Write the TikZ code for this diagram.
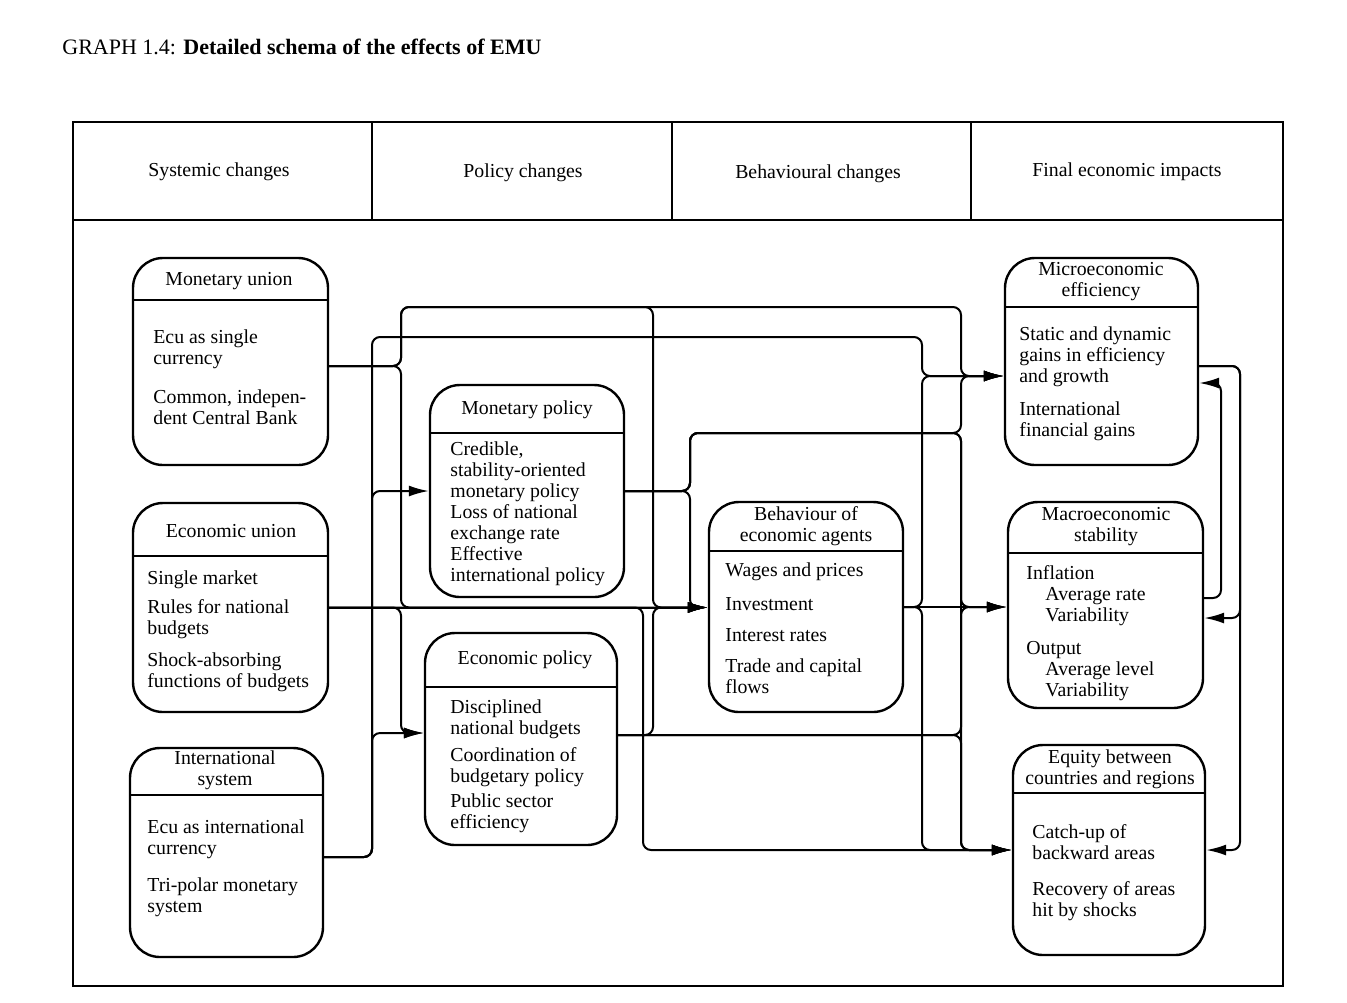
\documentclass[tikz,border=0pt]{standalone}
\usepackage{fontspec}
\setmainfont{Liberation Serif}
\usetikzlibrary{calc,arrows.meta}

\begin{document}
\begin{tikzpicture}[x=0.5pt,y=-0.5pt,
	every node/.style={font=\fontsize{9.9}{10.5}\selectfont},
	box/.style={draw,line width=1.2pt,rounded corners=15pt,inner sep=0pt},
	txt/.style={inner sep=0pt,align=left,anchor=north west},
	ttl/.style={inner sep=0pt,align=center},
	link/.style={line width=1pt,rounded corners=4pt,-{Latex[length=10pt,width=5.5pt]}}]
			%%%%% START %%%%%
			\useasboundingbox (0,0) rectangle (1347,1002);
			
			\node[anchor=west,inner sep=0pt,font=\fontsize{11}{13}\selectfont] (title) at (62,47) {GRAPH 1.4: \textbf{Detailed schema of the effects of EMU}};
			
			\draw[line width=1pt] (73,122) rectangle (1283,986);
			\draw[line width=1pt] (73,220) -- (1283,220);
			\draw[line width=1pt] (372,122) -- (372,220);
			\draw[line width=1pt] (672,122) -- (672,220);
			\draw[line width=1pt] (971,122) -- (971,220);
			
			\node (hdSys) at (219,172) {Systemic changes};
			\node (hdPol) at (523,173) {Policy changes};
			\node (hdBeh) at (818,174) {Behavioural changes};
			\node (hdFin) at (1127,172) {Final economic impacts};
			
			% boxes
			\node[box,minimum width=97.5pt,minimum height=103.5pt] (mu) at (230.5,361.5) {};
			\draw[line width=1.2pt] (133,300) -- (328,300);
			\node[ttl] (mu-t) at (229,281) {Monetary union};
			\node[txt] (mu-b) at (153,329.5) {Ecu as single\\currency\\[9pt]Common, indepen-\\dent Central Bank};
			
			\node[box,minimum width=97.5pt,minimum height=104.5pt] (eu) at (230.5,607.5) {};
			\draw[line width=1.2pt] (133,556) -- (328,556);
			\node[ttl] (eu-t) at (231,531) {Economic union};
			\node[txt] (eu-b) at (147,570.5) {Single market\\[4pt]Rules for national\\budgets\\[5.5pt]Shock-absorbing\\functions of budgets};
			
			\node[box,minimum width=96.5pt,minimum height=104.5pt] (is) at (226.5,852.5) {};
			\draw[line width=1.2pt] (130,795) -- (323,795);
			\node[ttl] (is-t) at (225,770.5) {International\\system};
			\node[txt] (is-b) at (147,819.5) {Ecu as international\\currency\\[8pt]Tri-polar monetary\\system};
			
			\node[box,minimum width=97pt,minimum height=106pt] (mp) at (527,491) {};
			\draw[line width=1.2pt] (430,433) -- (624,433);
			\node[ttl] (mp-t) at (527,410) {Monetary policy};
			\node[txt] (mp-b) at (450,441.5) {Credible,\\stability-oriented\\monetary policy\\Loss of national\\exchange rate\\Effective\\international policy};
			
			\node[box,minimum width=96pt,minimum height=106pt] (ep) at (521,739) {};
			\draw[line width=1.2pt] (425,687) -- (617,687);
			\node[ttl] (ep-t) at (525,660) {Economic policy};
			\node[txt] (ep-b) at (450,699.5) {Disciplined\\national budgets\\[3pt]Coordination of\\budgetary policy\\[2pt]Public sector\\efficiency};
			
			\node[box,minimum width=97pt,minimum height=105pt] (beh) at (806,607) {};
			\draw[line width=1.2pt] (709,551) -- (903,551);
			\node[ttl] (beh-t) at (806,526.5) {Behaviour of\\economic agents};
			\node[txt] (beh-b) at (725,562.5) {Wages and prices\\[6.5pt]Investment\\[5pt]Interest rates\\[5pt]Trade and capital\\flows};
			
			\node[box,minimum width=96.5pt,minimum height=103.5pt] (mic) at (1101.5,361.5) {};
			\draw[line width=1.2pt] (1005,307) -- (1198,307);
			\node[ttl] (mic-t) at (1101,282) {Microeconomic\\efficiency};
			\node[txt] (mic-b) at (1019,326.5) {Static and dynamic\\gains in efficiency\\and growth\\[6pt]International\\financial gains};
			
			\node[box,minimum width=97.5pt,minimum height=103pt] (mac) at (1105.5,605) {};
			\draw[line width=1.2pt] (1008,553) -- (1203,553);
			\node[ttl] (mac-t) at (1106,526.5) {Macroeconomic\\stability};
			\node[txt] (mac-b) at (1026,565.5) {Inflation\\\hspace*{9.5pt}Average rate\\\hspace*{9.5pt}Variability\\[6pt]Output\\\hspace*{9.5pt}Average level\\\hspace*{9.5pt}Variability};
			
			\node[box,minimum width=96pt,minimum height=105pt] (eq) at (1109,850) {};
			\draw[line width=1.2pt] (1013,793) -- (1205,793);
			\node[ttl] (eq-t) at (1110,769) {Equity between\\countries and regions};
			\node[txt] (eq-b) at (1032,824.5) {Catch-up of\\backward areas\\[7.5pt]Recovery of areas\\hit by shocks};
			
			% buses and ports
			\coordinate (busIS) at (372,0);
			\coordinate (busMU) at (401,0);
			\coordinate (busEU) at (643,0);
			\coordinate (busBeh) at (653,0);
			\coordinate (busMP) at (690,0);
			\coordinate (busOut) at (922,0);
			\coordinate (busFin) at (961,0);
			\coordinate (fbIn) at (1221,0);
			\coordinate (fbOut) at (1240,0);
			\coordinate (rowMU) at (0,307);
			\coordinate (rowIS) at (0,337);
			\coordinate (rowMP) at (0,433);
			\coordinate (muOut) at ($(mu.east)+(0,4.5)$);
			\coordinate (isOut) at ($(is.east)+(0,4.5)$);
			\coordinate (epIn) at ($(ep.west)+(0,-6)$);
			\coordinate (epOut) at ($(ep.east)+(0,-4)$);
			\coordinate (behIn) at (beh.west |- eu.east);
			\coordinate (macIn) at (mac.west |- beh.east);
			\coordinate (micIn) at ($(mic.west)+(0,14.5)$);
			\coordinate (micOut) at ($(mic.east)+(0,4.5)$);
			\coordinate (micFb) at ($(mic.east)+(0,21.5)$);
			\coordinate (macOut) at ($(mac.east)+(0,-7)$);
			\coordinate (macFb) at ($(mac.east)+(0,13)$);
			
			\draw[link] (muOut) -| (busMU |- rowMU) -| (busFin |- micIn) -- (micIn);
			\draw[link] (muOut) -| (busMU |- rowMU) -| (busBeh |- behIn) -- (behIn);
			\draw[link] (muOut) -| (busMU |- behIn) -- (behIn);
			
			\draw[link] (eu.east) -- (behIn);
			\draw[link] (eu.east) -| (busMU |- epIn) -- (epIn);
			\draw[link] (eu.east) -| (busEU |- eq.west) -- (eq.west);
			
			\draw[link] (isOut) -| (busIS |- mp.west) -- (mp.west);
			\draw[link] (isOut) -| (busIS |- epIn) -- (epIn);
			\draw[link] (isOut) -| (busIS |- rowIS) -| (busOut |- micIn) -- (micIn);
			
			\draw[link] (mp.east) -| (busMP |- behIn) -- (behIn);
			\draw[link] (mp.east) -| (busMP |- rowMP) -| (busFin |- micIn) -- (micIn);
			\draw[link] (mp.east) -| (busMP |- rowMP) -| (busFin |- macIn) -- (macIn);
			\draw[link] (mp.east) -| (busMP |- rowMP) -| (busFin |- eq.west) -- (eq.west);
			
			\draw[link] (epOut) -| (busBeh |- behIn) -- (behIn);
			\draw[link] (epOut) -| (busFin |- macIn) -- (macIn);
			\draw[link] (epOut) -| (busFin |- eq.west) -- (eq.west);
			
			\draw[link] (beh.east) -- (macIn);
			\draw[link] (beh.east) -| (busOut |- micIn) -- (micIn);
			\draw[link] (beh.east) -| (busOut |- eq.west) -- (eq.west);
			
			\draw[link] (macOut) -| (fbIn |- micFb) -- (micFb);
			\draw[link] (micOut) -| (fbOut |- macFb) -- (macFb);
			\draw[link] (micOut) -| (fbOut |- eq.east) -- (eq.east);
			%%%%% END %%%%%
\end{tikzpicture}
\end{document}
